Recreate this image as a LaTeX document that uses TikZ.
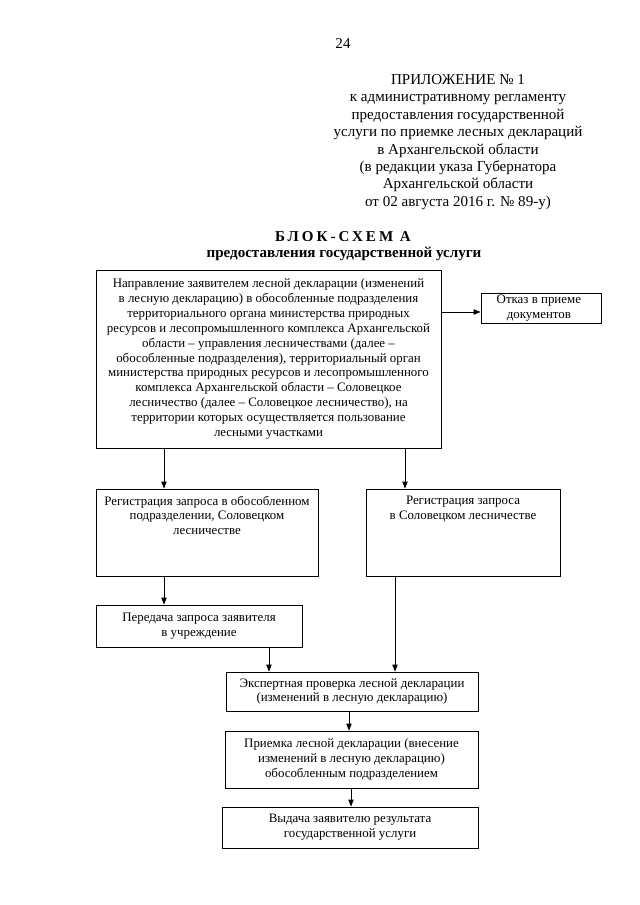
\documentclass[tikz,border=0pt]{standalone}
\usepackage{fontspec}
\setmainfont{Liberation Serif}
\usetikzlibrary{arrows.meta,fit}
\begin{document}
\begin{tikzpicture}[x=0.9301pt,y=-0.9301pt,
  box/.style={draw, line width=0.8pt, inner sep=0pt},
  txt/.style={align=center, font=\fontsize{12}{13.8}\selectfont, inner sep=0pt},
  arr/.style={line width=0.8pt, -{Triangle[length=6.5pt,width=5pt]}}]
\useasboundingbox[fill=white] (0,0) rectangle (640,905);

% header
\node[inner sep=0pt, font=\fontsize{14}{16.2}\selectfont] (pnum) at (343,44) {24};
\node[inner sep=0pt, align=center, font=\fontsize{14}{16.2}\selectfont] (appx) at (458,142)
 {ПРИЛОЖЕНИЕ № 1\\к административному регламенту\\предоставления государственной\\услуги по приемке лесных деклараций\\в Архангельской области\\(в редакции указа Губернатора\\Архангельской области\\от 02 августа 2016 г. № 89-у)};
\node[inner sep=0pt, font=\fontsize{14}{16}\selectfont\bfseries\addfontfeature{LetterSpace=20}] (title) at (343,237) {БЛОК-СХЕМ А};
\node[inner sep=0pt, font=\fontsize{14}{16}\selectfont\bfseries] (subtitle) at (344,254) {предоставления государственной услуги};

% boxes
\node[box, fit={(96,270) (441,448)}] (top) {};
\node[txt] (topt) at (top.center)
 {Направление заявителем лесной декларации (изменений\\в лесную декларацию) в обособленные подразделения\\территориального органа министерства природных\\ресурсов и лесопромышленного комплекса Архангельской\\области – управления лесничествами (далее –\\обособленные подразделения), территориальный орган\\министерства природных ресурсов и лесопромышленного\\комплекса Архангельской области – Соловецкое\\лесничество (далее – Соловецкое лесничество), на\\территории которых осуществляется пользование\\лесными участками};
\node[box, fit={(481,293) (601,323)}] (ref) {};
\node[txt] (reft) at ([xshift=-2pt]ref.center) {Отказ в приеме\\документов};

\node[box, fit={(96,489) (318,576)}] (regL) {};
\node[txt, anchor=north] (regLt) at ([yshift=-6.5pt]regL.north) {Регистрация запроса в обособленном\\подразделении, Соловецком\\лесничестве};
\node[box, fit={(366,489) (560,576)}] (regR) {};
\node[txt, anchor=north] (regRt) at ([yshift=-6.5pt]regR.north) {Регистрация запроса\\в Соловецком лесничестве};

\node[box, fit={(96,605) (302,647)}] (pered) {};
\node[txt] (peredt) at (pered.center) {Передача запроса заявителя\\в учреждение};
\node[box, fit={(226,672) (478,711)}] (exp) {};
\node[txt] (expt) at (exp.center) {Экспертная проверка лесной декларации\\(изменений в лесную декларацию)};
\node[box, fit={(225,731) (478,788)}] (priem) {};
\node[txt] (priemt) at (priem.center) {Приемка лесной декларации (внесение\\изменений в лесную декларацию)\\обособленным подразделением};
\node[box, fit={(222,807) (478,848)}] (vyd) {};
\node[txt] (vydt) at (vyd.center) {Выдача заявителю результата\\государственной услуги};

% helper coordinates
\coordinate (yref) at (0,312);
\coordinate (xa) at (164,0);
\coordinate (xb) at (405,0);
\coordinate (xc) at (269,0);
\coordinate (xd) at (395,0);
\coordinate (xe) at (349,0);
\coordinate (xf) at (351,0);

% connectors
\draw[arr] (top.east |- yref) -- (ref.west |- yref);
\draw[arr] (xa |- top.south) -- (xa |- regL.north);
\draw[arr] (xb |- top.south) -- (xb |- regR.north);
\draw[arr] (xa |- regL.south) -- (xa |- pered.north);
\draw[arr] (xc |- pered.south) -- (xc |- exp.north);
\draw[arr] (xd |- regR.south) -- (xd |- exp.north);
\draw[arr] (xe |- exp.south) -- (xe |- priem.north);
\draw[arr] (xf |- priem.south) -- (xf |- vyd.north);
\end{tikzpicture}
\end{document}
